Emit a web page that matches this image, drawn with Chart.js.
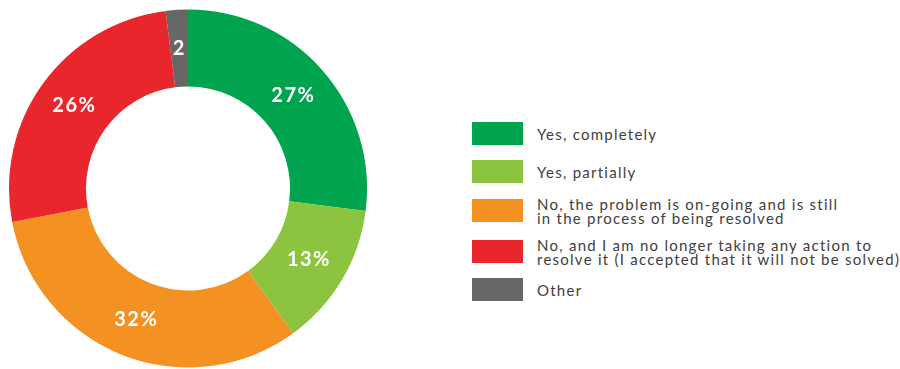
<!DOCTYPE html>
<html>
<head>
<meta charset="utf-8">
<script src="https://cdn.jsdelivr.net/npm/chart.js@4"></script>
<style>
  html, body { margin: 0; padding: 0; background: #fff; overflow: hidden; }
  body { width: 900px; height: 369px; position: relative; }
  .chartBox { position: absolute; left: 0; top: 0; width: 376px; height: 377px; }
  .legend { position: absolute; left: 472px; top: 122px; font-family: Lato, "Open Sans", sans-serif; font-weight: 400; font-size: 15px; color: #404040; letter-spacing: 1.25px; }
  .legendItem { position: absolute; left: 0; width: 430px; height: 23px; }
  .legendItem .swatch { position: absolute; left: 0; top: 0; width: 51px; height: 23px; }
  .legendItem .text { position: absolute; left: 65px; top: 50%; transform: translateY(-50%); line-height: 14px; white-space: nowrap; }
</style>
</head>
<body>
<div class="chartBox"><canvas id="donut"></canvas></div>
<div class="legend" id="legend"></div>
<script>
const categories = [
  ["Yes, completely"],
  ["Yes, partially"],
  ["No, the problem is on-going and is still", "in the process of being resolved"],
  ["No, and I am no longer taking any action to", "resolve it (I accepted that it will not be solved)"],
  ["Other"]
];
const shares = [27, 13, 32, 26, 2];
const sliceLabels = ["27%", "13%", "32%", "26%", "2"];
const colors = ["#00a34e", "#8cc43f", "#f39123", "#e8262b", "#676767"];
const legendTops = [0, 38, 77, 118, 156];

// white labels in the middle of each ring segment
const sliceText = {
  id: "sliceText",
  afterDatasetsDraw(chart) {
    const ctx = chart.ctx;
    ctx.save();
    ctx.fillStyle = "#fff";
    ctx.font = "bold 20px Lato, 'Open Sans', sans-serif";
    ctx.letterSpacing = "1.5px";
    ctx.textAlign = "center";
    ctx.textBaseline = "middle";
    chart.getDatasetMeta(0).data.forEach((arc, i) => {
      const p = arc.getCenterPoint();
      ctx.fillText(sliceLabels[i], p.x, p.y);
    });
    ctx.restore();
  }
};

new Chart(document.getElementById("donut"), {
  type: "doughnut",
  data: {
    labels: categories.map(c => c.join(" ")),
    datasets: [{
      data: shares,
      backgroundColor: colors,
      borderWidth: 0
    }]
  },
  options: {
    responsive: true,
    maintainAspectRatio: false,
    animation: false,
    cutout: "57%",
    layout: { padding: 9 },
    plugins: {
      legend: { display: false },
      tooltip: { enabled: false }
    }
  },
  plugins: [sliceText]
});

const legend = document.getElementById("legend");
categories.forEach((lines, i) => {
  const item = document.createElement("div");
  item.className = "legendItem";
  item.style.top = legendTops[i] + "px";
  const sw = document.createElement("div");
  sw.className = "swatch";
  sw.style.background = colors[i];
  const tx = document.createElement("div");
  tx.className = "text";
  tx.innerHTML = lines.join("<br>");
  item.appendChild(sw);
  item.appendChild(tx);
  legend.appendChild(item);
});
</script>
</body>
</html>
